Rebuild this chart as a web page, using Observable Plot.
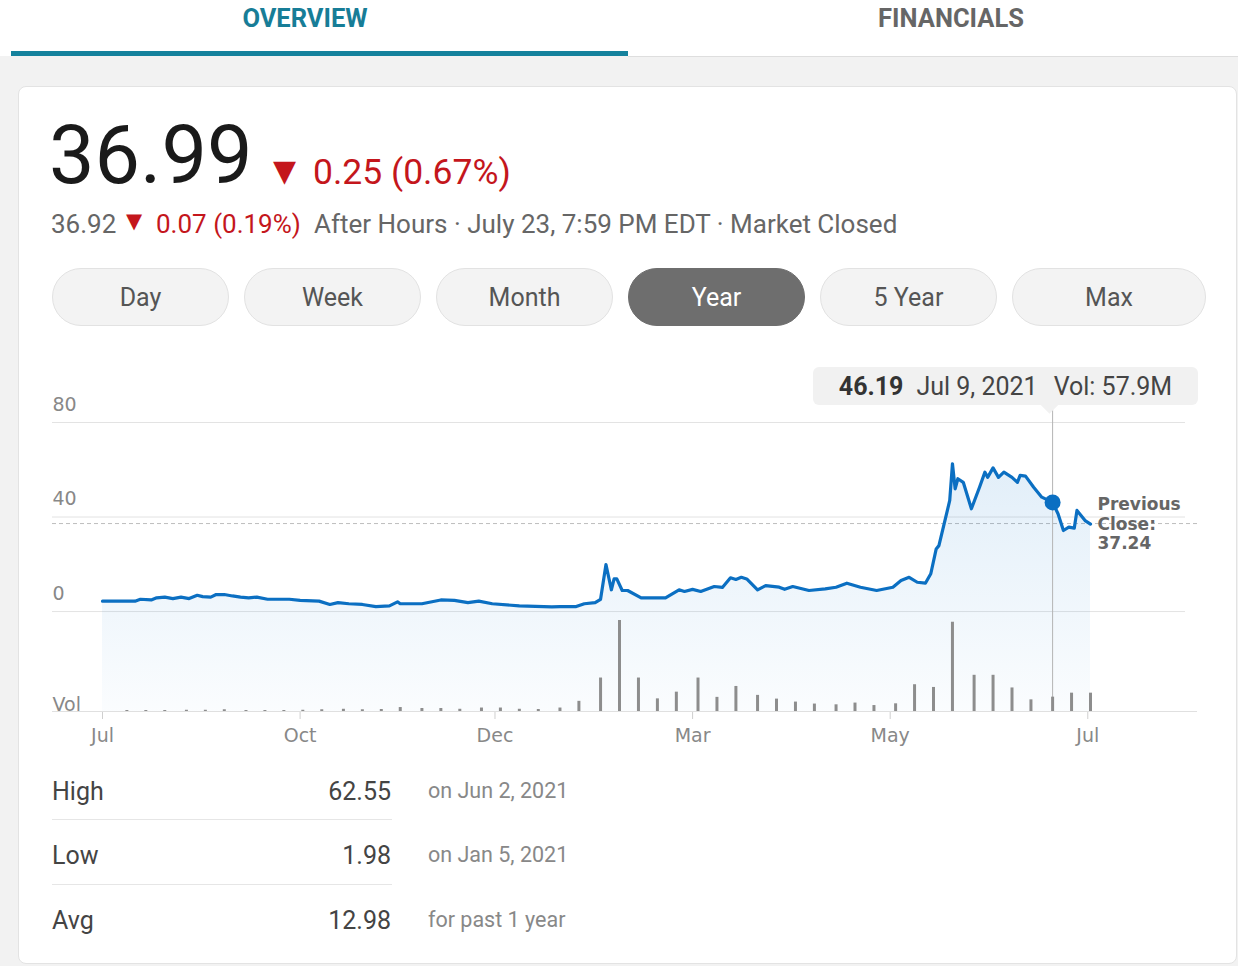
<!DOCTYPE html>
<html><head><meta charset="utf-8">
<script src="https://cdn.jsdelivr.net/npm/d3@7"></script>
<script src="https://cdn.jsdelivr.net/npm/@observablehq/plot@0.6"></script>
<style>
html,body{margin:0;padding:0;}
body{width:1238px;height:966px;position:relative;overflow:hidden;background:#f2f2f2;font-family:Roboto,"Noto Sans",sans-serif;}
.abs{position:absolute;white-space:nowrap;line-height:1;}
#topbar{position:absolute;left:0;top:0;width:1238px;height:56px;background:#fff;}
.tab{position:absolute;top:6px;width:300px;text-align:center;font-weight:700;font-size:25.5px;line-height:1;}
#card{position:absolute;left:18px;top:86px;width:1217px;height:876px;background:#fff;border:1px solid #e3e3e3;border-radius:8px;}
.pill{position:absolute;top:268px;height:56px;border:1px solid #e2e2e2;background:#f3f3f3;border-radius:29px;color:#555;font-size:25px;display:flex;align-items:center;justify-content:center;}
.pill.active{background:#6e6e6e;border-color:#6e6e6e;color:#fff;}
#tip{position:absolute;left:813px;top:367px;width:385px;height:38px;background:#f1f1f1;border-radius:6px;font-size:25px;color:#444;display:flex;align-items:center;justify-content:center;line-height:1;}
#tipArrow{position:absolute;left:1043px;top:398px;width:13px;height:13px;background:#f1f1f1;transform:rotate(45deg);}
.chart{position:absolute;left:0;top:360px;}
.row{position:absolute;line-height:1;white-space:nowrap;}
.divider{position:absolute;left:52px;width:340px;height:1px;background:#e6e6e6;}
</style>
</head><body>
<div id="topbar"></div>
<div class="tab" style="left:155px;color:#177d97;">OVERVIEW</div>
<div class="tab" style="left:801px;color:#666;">FINANCIALS</div>
<div class="abs" style="left:11px;top:51px;width:617px;height:5px;background:#15829d;"></div>
<div class="abs" style="left:628px;top:56px;width:610px;height:1px;background:#dedede;"></div>
<div id="card"></div>
<div id="header"></div>
<div id="buttons"></div>
<div id="charts"></div>
<div id="stats"></div>
<script>
// ---------- data ----------
const lastPrice = "36.99";
const change = "0.25 (0.67%)";
const afterPrice = "36.92";
const afterChange = "0.07 (0.19%)";
const afterNote = "After Hours · July 23, 7:59 PM EDT · Market Closed";

const ranges = ["Day", "Week", "Month", "Year", "5 Year", "Max"];
const activeRange = "Year";

const priceDates = [
  "2020-07-23","2020-08-04","2020-08-06","2020-08-10","2020-08-12","2020-08-15","2020-08-18","2020-08-21",
  "2020-08-24","2020-08-27","2020-08-29","2020-09-01","2020-09-03","2020-09-06","2020-09-09","2020-09-12",
  "2020-09-15","2020-09-18","2020-09-22","2020-09-26","2020-09-30","2020-10-04","2020-10-11","2020-10-15",
  "2020-10-18","2020-10-22","2020-10-27","2020-11-01","2020-11-06","2020-11-09","2020-11-10","2020-11-18",
  "2020-11-25","2020-11-30","2020-12-05","2020-12-09","2020-12-14","2020-12-24","2021-01-05","2021-01-08",
  "2021-01-14","2021-01-17","2021-01-21","2021-01-23","2021-01-25","2021-01-27","2021-01-28","2021-01-29",
  "2021-01-31","2021-02-02","2021-02-07","2021-02-16","2021-02-21","2021-02-23","2021-02-26","2021-03-01",
  "2021-03-06","2021-03-09","2021-03-12","2021-03-14","2021-03-16","2021-03-18","2021-03-22","2021-03-25",
  "2021-03-30","2021-04-01","2021-04-04","2021-04-10","2021-04-16","2021-04-20","2021-04-24","2021-04-29",
  "2021-05-05","2021-05-11","2021-05-14","2021-05-17","2021-05-20","2021-05-23","2021-05-25","2021-05-27",
  "2021-05-28","2021-06-01","2021-06-02","2021-06-03","2021-06-04","2021-06-06","2021-06-09","2021-06-12",
  "2021-06-14","2021-06-15","2021-06-17","2021-06-19","2021-06-21","2021-06-24","2021-06-26","2021-06-27",
  "2021-06-29","2021-07-02","2021-07-05","2021-07-09","2021-07-11","2021-07-13","2021-07-15","2021-07-17",
  "2021-07-18","2021-07-21","2021-07-23"
];
const priceValues = [
  4.4,4.4,5.2,4.9,5.8,6.1,5.5,6.1,
  5.5,6.9,6.3,6.1,7.2,7.2,6.6,6.1,
  5.8,6.1,5.2,5.2,5.2,4.7,4.4,3.0,
  3.8,3.3,3.0,2.1,2.4,4.1,3.3,3.3,
  4.9,4.7,3.8,4.4,3.3,2.4,1.98,2.1,
  2.1,3.3,3.8,5.2,19.9,9.2,13.8,13.8,
  8.9,8.9,5.8,5.8,9.2,8.5,9.4,8.5,
  10.6,10.2,14.3,13.6,14.5,13.8,9.2,11.0,
  10.3,9.4,10.6,8.9,9.6,10.3,12.0,10.3,
  8.9,10.3,13.1,14.5,12.4,12.0,16.0,26.5,
  27.9,47.0,62.55,51.9,56.2,54.7,43.5,52.6,
  59.0,56.8,60.8,56.8,59.0,56.8,54.7,57.6,
  57.3,52.6,48.4,46.19,41.4,34.3,35.7,35.3,
  42.8,38.5,36.99
];

const volDates = [
  "2020-08-01","2020-08-08","2020-08-15","2020-08-23","2020-08-30","2020-09-06","2020-09-14","2020-09-21",
  "2020-09-28","2020-10-05","2020-10-12","2020-10-20","2020-10-27","2020-11-03","2020-11-10","2020-11-18",
  "2020-11-25","2020-12-02","2020-12-10","2020-12-17","2020-12-24","2020-12-31","2021-01-08","2021-01-15",
  "2021-01-23","2021-01-30","2021-02-06","2021-02-13","2021-02-20","2021-02-28","2021-03-07","2021-03-14",
  "2021-03-22","2021-03-29","2021-04-05","2021-04-12","2021-04-20","2021-04-27","2021-05-04","2021-05-12",
  "2021-05-19","2021-05-26","2021-06-02","2021-06-10","2021-06-17","2021-06-24","2021-07-01","2021-07-09",
  "2021-07-16","2021-07-23"
];
const volValues = [ // millions of shares
  4,4,4,5,5,7,4,4,
  4,5,7,9,7,8,16,12,
  12,9,14,14,9,8,14,41,
  135,367,135,51,78,135,57,101,
  65,50,38,30,27,34,24,31,
  108,97,360,146,146,95,47,57.9,
  74,74
];

const yTicks = [0, 40, 80];
const tickDates = ["2020-07-23","2020-10-04","2020-12-15","2021-02-26","2021-05-10","2021-07-22"];
const tickLabels = ["Jul","Oct","Dec","Mar","May","Jul"];

const prevClose = 37.24;
const hoverDate = "2021-07-09";
const hoverPrice = 46.19;
const hoverVol = "57.9M";
const hoverLabel = "Jul 9, 2021";

const statLabels = ["High", "Low", "Avg"];
const statValues = ["62.55", "1.98", "12.98"];
const statNotes = ["on Jun 2, 2021", "on Jan 5, 2021", "for past 1 year"];

// ---------- header ----------
const header = document.getElementById("header");
header.innerHTML = `
  <div class="abs" style="left:49px;top:115px;font-size:81px;color:#1a1a1a;">${lastPrice}</div>
  <div class="abs" style="left:273px;top:156px;font-size:30px;color:#c4161c;font-family:'DejaVu Sans';">▼</div>
  <div class="abs" style="left:313px;top:155px;font-size:35.5px;color:#c4161c;">${change}</div>
  <div class="abs" style="left:51px;top:211px;font-size:26px;color:#666;">${afterPrice}</div>
  <div class="abs" style="left:126px;top:211px;font-size:21px;color:#c4161c;font-family:'DejaVu Sans';">▼</div>
  <div class="abs" style="left:156px;top:211px;font-size:26px;color:#c4161c;">${afterChange}</div>
  <div class="abs" style="left:314px;top:211px;font-size:26px;color:#666;">${afterNote}</div>
`;

// ---------- range buttons ----------
const btnLeft = [52, 244, 436, 628, 820, 1012];
const btnWidth = [175, 175, 175, 175, 175, 192];
document.getElementById("buttons").innerHTML = ranges.map((r, i) =>
  `<div class="pill${r === activeRange ? " active" : ""}" style="left:${btnLeft[i]}px;width:${btnWidth[i]}px;">${r}</div>`
).join("");

// ---------- charts ----------
const priceData = priceDates.map((d, i) => ({date: new Date(d), price: priceValues[i]}));
const volData = volDates.map((d, i) => ({date: new Date(d), vol: volValues[i]}));
const hover = [{date: new Date(hoverDate), price: hoverPrice}];
const last = [{date: priceData[priceData.length - 1].date, price: prevClose}];
const tickMap = new Map(tickDates.map((d, i) => [+new Date(d), tickLabels[i]]));
const xDomain = [priceData[0].date, priceData[priceData.length - 1].date];
const yDomain = [-42.3, 87.2];

const chartStyle = {background: "transparent", fontFamily: "'DejaVu Sans', Verdana, sans-serif", fontSize: "19px", overflow: "visible"};

const priceChart = Plot.plot({
  width: 1238, height: 400,
  marginLeft: 52, marginRight: 41, marginTop: 45, marginBottom: 49,
  style: chartStyle,
  x: {type: "utc", domain: xDomain, range: [102, 1090]},
  y: {domain: yDomain, axis: null},
  marks: [
    Plot.ruleY(yTicks, {stroke: "#e3e3e3", insetRight: 12}),
    Plot.ruleY([prevClose], {stroke: "#bdbdbd", strokeDasharray: "4,3"}),
    Plot.areaY(priceData, {x: "date", y1: yDomain[0], y2: "price", fill: "url(#priceGrad)"}),
    Plot.ruleX(hover, {x: "date", stroke: "#b4b4b4"}),
    Plot.lineY(priceData, {x: "date", y: "price", stroke: "#0b6fc2", strokeWidth: 3.2, strokeLinejoin: "round"}),
    Plot.dot(hover, {x: "date", y: "price", r: 8, fill: "#0b6fc2"}),
    Plot.text(yTicks, {y: d => d, frameAnchor: "left", textAnchor: "start", dy: -18, text: d => String(d), fill: "#888", fontSize: 19}),
    Plot.text(last, {x: "date", y: "price", text: d => `Previous\nClose:\n${d.price}`, dx: 7, textAnchor: "start", lineHeight: 1.15, fontWeight: "bold", fill: "#666", fontSize: 17}),
    Plot.axisX(tickDates.map(d => new Date(d)), {tickFormat: d => tickMap.get(+d), tickSize: 8, tickPadding: 9, stroke: "#cfcfcf", fill: "#888", fontSize: 19})
  ]
});

const volChart = Plot.plot({
  width: 1238, height: 400,
  marginLeft: 52, marginRight: 41, marginTop: 260, marginBottom: 49,
  style: chartStyle,
  x: {type: "utc", domain: xDomain, range: [102, 1090], axis: null},
  y: {domain: [0, d3.max(volValues)], axis: null},
  marks: [
    Plot.ruleY([0], {stroke: "#e0e0e0"}),
    Plot.ruleX(volData, {x: "date", y: "vol", stroke: "#8d8d8d", strokeWidth: 3}),
    Plot.text(["Vol"], {frameAnchor: "bottom-left", textAnchor: "start", lineAnchor: "bottom", dy: -1, fill: "#888", fontSize: 19})
  ]
});

const defs = d3.select(priceChart).insert("defs", ":first-child");
const grad = defs.append("linearGradient").attr("id", "priceGrad").attr("x1", 0).attr("y1", 0).attr("x2", 0).attr("y2", 1);
grad.append("stop").attr("offset", "0").attr("stop-color", "#1d7fd1").attr("stop-opacity", 0.13);
grad.append("stop").attr("offset", "1").attr("stop-color", "#1d7fd1").attr("stop-opacity", 0.02);

priceChart.classList.add("chart");
volChart.classList.add("chart");
const charts = document.getElementById("charts");
charts.appendChild(priceChart);
charts.appendChild(volChart);

// tooltip
charts.insertAdjacentHTML("beforeend",
  `<div id="tipArrow"></div><div id="tip"><b style="color:#333;">${hoverPrice}</b><span style="margin-left:13px;">${hoverLabel}</span><span style="margin-left:16px;">Vol: ${hoverVol}</span></div>`);

// ---------- stats ----------
const rowTop = [779, 843, 908];
document.getElementById("stats").innerHTML = statLabels.map((l, i) => `
  <div class="row" style="left:52px;top:${rowTop[i]}px;font-size:25px;color:#444;">${l}</div>
  <div class="row" style="left:250px;width:141px;text-align:right;top:${rowTop[i]}px;font-size:25px;color:#444;">${statValues[i]}</div>
  <div class="row" style="left:428px;top:${rowTop[i] + 1}px;font-size:21.5px;color:#888;">${statNotes[i]}</div>
`).join("") + `<div class="divider" style="top:819px;"></div><div class="divider" style="top:884px;"></div>`;
</script>
</body></html>
